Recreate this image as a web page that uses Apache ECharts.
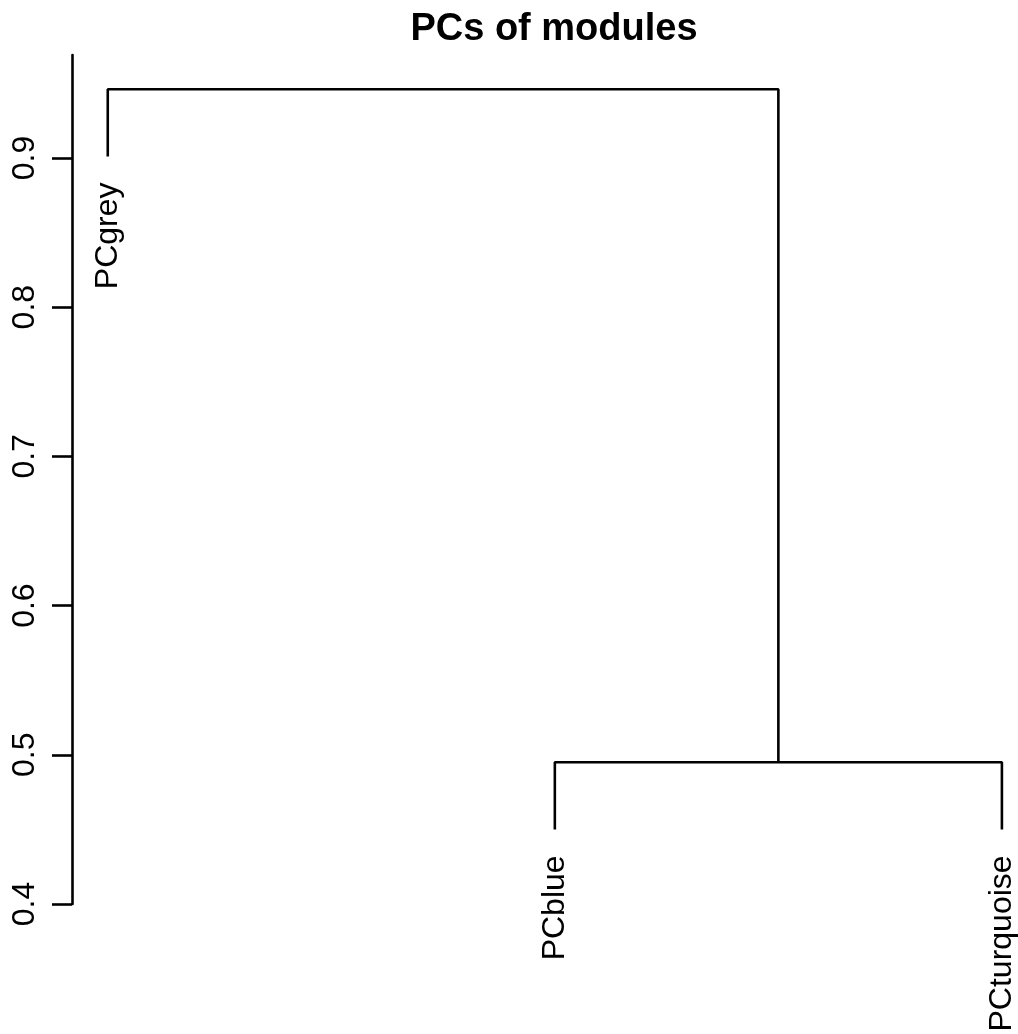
<!DOCTYPE html>
<html>
<head>
<meta charset="utf-8">
<script src="https://cdn.jsdelivr.net/npm/echarts@6/dist/echarts.min.js"></script>
<style>
  html, body { margin: 0; padding: 0; background: #fff; }
</style>
</head>
<body>
<div id="chart" style="width: 1018px;height: 1034px;"></div>
<script>
// leaves in plot order
const leafLabels = ['PCgrey', 'PCblue', 'PCturquoise']
const leafHeight = [0.901, 0.450, 0.450]
// merges in R hclust style: negative = leaf (1-based), positive = earlier merge
const mergeLeft = [-2, -1]
const mergeRight = [-3, 1]
const mergeHeight = [0.495, 0.946]
const yTicks = [0.4, 0.5, 0.6, 0.7, 0.8, 0.9]

const FONT = '"Liberation Sans", Arial, Helvetica, sans-serif'
const LINE_W = 2.6

const chart = echarts.init(document.getElementById('chart'))

// node position: leaf -> its slot, merge -> middle of its children
const nodeX = (id) => id < 0 ? -id : (nodeX(mergeLeft[id - 1]) + nodeX(mergeRight[id - 1])) / 2
const nodeY = (id) => id < 0 ? leafHeight[-id - 1] : mergeHeight[id - 1]

const mergeSeries = mergeHeight.map((h, i) => {
  const a = mergeLeft[i]
  const b = mergeRight[i]
  return {
    type: 'line',
    symbol: 'none',
    silent: true,
    lineStyle: { color: '#000', width: LINE_W },
    data: [
      [nodeX(a), nodeY(a)],
      [nodeX(a), h],
      [nodeX(b), h],
      [nodeX(b), nodeY(b)]
    ]
  }
})

const option = {
  animation: false,
  backgroundColor: '#fff',
  title: {
    text: 'PCs of modules',
    left: 549,
    top: 6,
    textAlign: 'center',
    textStyle: { fontFamily: FONT, fontSize: 38, fontWeight: 'bold', color: '#000' }
  },
  grid: { left: 72, right: 0, top: 55, bottom: 130 },
  xAxis: {
    type: 'value',
    min: 0.92,
    max: 3.036,
    show: false
  },
  yAxis: {
    type: 'value',
    min: 0.4,
    max: 0.969,
    axisLine: { show: true, lineStyle: { color: '#000', width: LINE_W } },
    axisTick: {
      show: true,
      length: 20,
      customValues: yTicks,
      lineStyle: { color: '#000', width: LINE_W }
    },
    axisLabel: {
      rotate: 90,
      margin: 31,
      customValues: yTicks,
      formatter: (v) => v.toFixed(1),
      fontFamily: FONT,
      fontSize: 32,
      color: '#000'
    },
    splitLine: { show: false }
  },
  series: [
    ...mergeSeries,
    {
      type: 'scatter',
      symbolSize: 0,
      silent: true,
      itemStyle: { color: '#000', opacity: 1 },
      data: leafLabels.map((name, i) => ({ name, value: [i + 1, leafHeight[i]] })),
      label: {
        show: true,
        formatter: '{b}',
        position: 'bottom',
        distance: 26,
        rotate: 90,
        align: 'right',
        verticalAlign: 'middle',
        fontFamily: FONT,
        fontSize: 32,
        color: '#000',
        opacity: 1,
        textBorderWidth: 0
      }
    }
  ]
}

chart.setOption(option)
</script>
</body>
</html>
